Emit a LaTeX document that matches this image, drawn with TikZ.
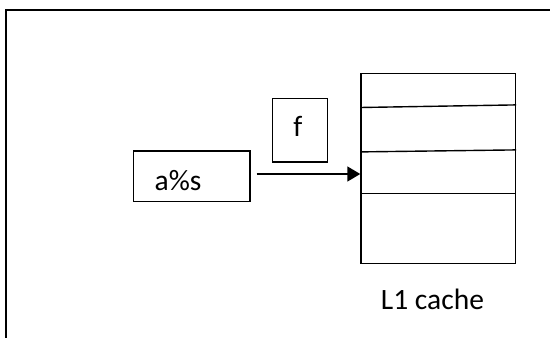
\documentclass[tikz,border=0pt]{standalone}
\usepackage{fontspec}
\setmainfont{Carlito}
\usetikzlibrary{arrows.meta,calc}
\tikzset{
  boxshape/.style={draw, line width=1.6pt, rectangle, inner sep=0pt},
  lbl/.style={inner sep=0pt, font=\fontsize{29.5}{35}\selectfont},
  sep/.style={line width=1.4pt},
  conn/.style={line width=1.8pt, -{Triangle[length=13pt,width=15pt]}}
}
\begin{document}
\begin{tikzpicture}[x=1pt,y=-1pt]
\useasboundingbox (0,0) rectangle (550,338);
% outer frame
\draw[line width=2pt] (6,340) -- (6,9.8) -- (552,9.8);
% boxes
\node[boxshape, minimum width=116.4pt, minimum height=50.7pt] (boxa) at (191.5,176.3) {};
\node[lbl, anchor=base west] (ta) at (154.5,190) {a\%s};
\node[boxshape, minimum width=54.8pt, minimum height=63.4pt] (boxf) at (299.9,130) {};
\node[lbl, anchor=base] (tf) at (298,136.7) {f};
\node[boxshape, minimum width=154.3pt, minimum height=190pt] (cache) at (438.2,168.3) {};
% cache rows
\draw[sep] ($(cache.north west)+(0,35)$) -- ($(cache.north east)+(0,32.4)$);
\draw[sep] ($(cache.north west)+(0,79.4)$) -- ($(cache.north east)+(0,77.4)$);
\draw[sep] ($(cache.north west)+(0,120.7)$) -- ($(cache.north east)+(0,120.7)$);
\node[lbl, anchor=base] (tl) at (432.5,309.3) {L1 cache};
% arrow
\coordinate (start) at ([shift={(6,-2.3)}]boxa.east);
\draw[conn] (start) -- (start -| cache.west);
\end{tikzpicture}
\end{document}
